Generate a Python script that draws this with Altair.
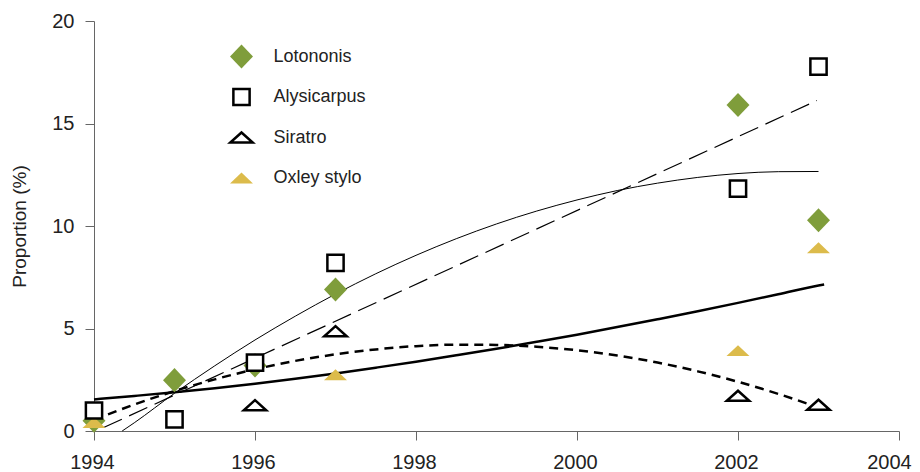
import altair as alt
import pandas as pd

# ---------------- data ----------------
series_order = ["Lotononis", "Alysicarpus", "Siratro", "Oxley stylo"]

lotononis_years = [1994, 1995, 1996, 1997, 2002, 2003]
lotononis_vals = [0.5, 2.48, 3.2, 6.9, 15.9, 10.28]

alysicarpus_years = [1994, 1995, 1996, 1997, 2002, 2003]
alysicarpus_vals = [1.0, 0.57, 3.33, 8.2, 11.82, 17.78]

siratro_years = [1996, 1997, 2002, 2003]
siratro_vals = [1.26, 4.87, 1.72, 1.28]

oxley_years = [1994, 1997, 2002, 2003]
oxley_vals = [0.41, 2.74, 3.92, 8.94]

# fitted curves
thin_years = [1994.35, 1994.5, 1995, 1995.5, 1996, 1996.5, 1997, 1997.5, 1998, 1998.5,
              1999, 1999.5, 2000, 2000.5, 2001, 2001.5, 2002, 2002.5, 2003]
thin_vals = [0, 0.40, 1.84, 3.18, 4.44, 5.60, 6.68, 7.67, 8.57, 9.38,
             10.10, 10.73, 11.27, 11.73, 12.09, 12.37, 12.56, 12.65, 12.66]

longdash_years = [1994.12, 2002.98]
longdash_vals = [0.17, 16.12]

thick_years = [1994, 1994.5, 1995, 1995.5, 1996, 1996.5, 1997, 1997.5, 1998, 1998.5,
               1999, 1999.5, 2000, 2000.5, 2001, 2001.5, 2002, 2002.5, 2003, 2003.07]
thick_vals = [1.54, 1.71, 1.89, 2.09, 2.31, 2.55, 2.81, 3.09, 3.38, 3.69,
              4.01, 4.35, 4.70, 5.07, 5.45, 5.84, 6.25, 6.67, 7.10, 7.15]

shortdash_years = [1994, 1994.5, 1995, 1995.5, 1996, 1996.5, 1997, 1997.5, 1998, 1998.5,
                   1999, 1999.5, 2000, 2000.5, 2001, 2001.5, 2002, 2002.5, 2002.96]
shortdash_vals = [0.55, 1.29, 1.95, 2.52, 3.01, 3.42, 3.74, 3.98, 4.14, 4.21,
                  4.20, 4.11, 3.94, 3.68, 3.34, 2.91, 2.40, 1.81, 1.2]

x_ticks = [1994, 1996, 1998, 2000, 2002, 2004]
y_ticks = [0, 5, 10, 15, 20]

# ---------------- styling ----------------
FONT = "Liberation Sans"
TXT = "#222222"
AXC = "#666666"
GREEN = "#7f9d3b"
YELLOW = "#dcbb4b"

# "M0,-1M0,1" only widens the bounds so every legend row gets the same height
PAD = "M0,-1M0,1"
diamond = PAD + "M0,-0.86L0.82,0L0,0.86L-0.82,0Z"
square = PAD + "M-0.58,-0.58L0.58,-0.58L0.58,0.58L-0.58,0.58Z"
tri_open = PAD + "M0,-0.36L0.8,0.36L-0.8,0.36Z"
tri_fill = PAD + "M0,-0.39L0.82,0.39L-0.82,0.39Z"

# draw order: diamonds, yellow, open triangles, squares on top
pts = pd.concat([
    pd.DataFrame({"year": lotononis_years, "value": lotononis_vals, "series": "Lotononis"}),
    pd.DataFrame({"year": oxley_years, "value": oxley_vals, "series": "Oxley stylo"}),
    pd.DataFrame({"year": siratro_years, "value": siratro_vals, "series": "Siratro"}),
    pd.DataFrame({"year": alysicarpus_years, "value": alysicarpus_vals, "series": "Alysicarpus"}),
], ignore_index=True)

xscale = alt.Scale(domain=[1994, 2004], nice=False, zero=False)
yscale = alt.Scale(domain=[0, 20], nice=False)

xenc = alt.X("year:Q", scale=xscale,
             axis=alt.Axis(values=x_ticks, format="d", title=None, grid=False,
                           labelFlush=False, labelPadding=12,
                           labelOffset={"condition": {"test": "datum.value === 2004", "value": -10},
                                        "value": -2}))
yenc = alt.Y("value:Q", scale=yscale,
             axis=alt.Axis(values=y_ticks, title="Proportion (%)", grid=False,
                           labelPadding=11, titleX=-68.5, titleY=205,
                           titleAngle=270, titleBaseline="alphabetic",
                           titleAlign="center"))


def curve(years, vals, **kw):
    df = pd.DataFrame({"year": years, "value": vals})
    return alt.Chart(df).mark_line(color="black", interpolate="monotone", **kw).encode(
        x=xenc, y=yenc)


thin = curve(thin_years, thin_vals, strokeWidth=1)
longdash = curve(longdash_years, longdash_vals, strokeWidth=1.2, strokeDash=[20, 8])
thick = curve(thick_years, thick_vals, strokeWidth=2.5)
shortdash = curve(shortdash_years, shortdash_vals, strokeWidth=2.5, strokeDash=[9, 6])

leg = alt.Legend(orient="none", legendX=132, legendY=20, title=None,
                 labelFontSize=18, labelFont=FONT, labelColor=TXT,
                 symbolSize=784, symbolStrokeWidth=2.5, rowPadding=1.5,
                 labelOffset=16.5, padding=0)

points = alt.Chart(pts).mark_point(size=784, strokeWidth=2.5, opacity=1,
                                   strokeJoin="miter").encode(
    x=xenc, y=yenc,
    shape=alt.Shape("series:N", sort=series_order,
                    scale=alt.Scale(domain=series_order,
                                    range=[diamond, square, tri_open, tri_fill]),
                    legend=leg),
    fill=alt.Fill("series:N", sort=series_order,
                  scale=alt.Scale(domain=series_order,
                                  range=[GREEN, "white", "white", YELLOW]),
                  legend=leg),
    stroke=alt.Stroke("series:N", sort=series_order,
                      scale=alt.Scale(domain=series_order,
                                      range=["transparent", "black", "black", "transparent"]),
                      legend=leg),
)

chart = alt.layer(thin, longdash, thick, shortdash, points).properties(
    width=805, height=410,
    autosize=alt.AutoSizeParams(type="none"),
    padding={"left": 86, "top": 13, "right": 13, "bottom": 40},
).configure_view(stroke=None).configure_axis(
    domainColor=AXC, tickColor=AXC, tickSize=9, domainWidth=1, tickWidth=1,
    labelFont=FONT, labelFontSize=20, labelColor=TXT,
    titleFont=FONT, titleFontSize=19, titleFontWeight="normal", titleColor=TXT,
)

chart.save("out.html", embed_options={"renderer": "svg", "actions": False})
